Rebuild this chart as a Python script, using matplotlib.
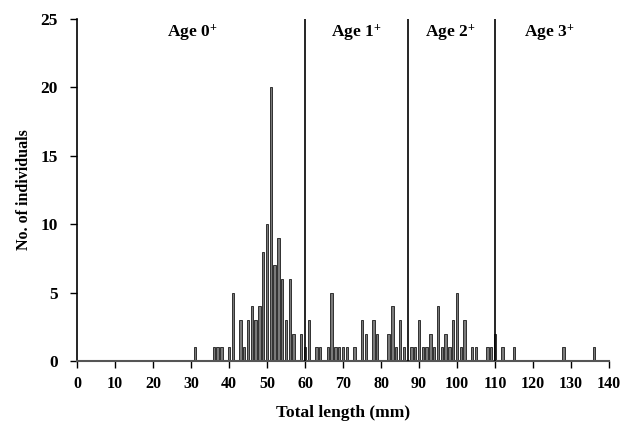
import matplotlib
matplotlib.use("Agg")
import matplotlib.pyplot as plt

plt.rcParams['font.family'] = ['Liberation Serif', 'DejaVu Serif']
plt.rcParams['font.weight'] = 'bold'
plt.rcParams['mathtext.fontset'] = 'custom'
plt.rcParams['mathtext.rm'] = 'Liberation Serif:bold'
plt.rcParams['mathtext.bf'] = 'Liberation Serif:bold'
plt.rcParams['mathtext.it'] = 'Liberation Serif:bold'

lengths = [31, 36, 37, 38, 40, 41, 43, 44, 45, 46, 47, 48, 49, 50, 51, 52, 53, 54, 55, 56,
           57, 59, 60, 61, 63, 64, 66, 67, 68, 69, 70, 71, 73, 75, 76, 78, 79, 82, 83, 84,
           85, 86, 88, 89, 90, 91, 92, 93, 94, 95, 96, 97, 98, 99, 100, 101, 102, 104, 105,
           108, 109, 110, 112, 115, 128, 136]
counts = [1, 1, 1, 1, 1, 5, 3, 1, 3, 4, 3, 4, 8, 10, 20, 7, 9, 6, 3, 6,
          2, 2, 1, 3, 1, 1, 1, 5, 1, 1, 1, 1, 1, 3, 2, 3, 2, 2, 4, 1,
          3, 1, 1, 1, 3, 1, 1, 2, 1, 4, 1, 2, 1, 3, 5, 1, 3, 1, 1,
          1, 1, 2, 1, 1, 1, 1]
age_limits = [60, 87, 110]
age_labels = ['Age 0$^{+}$', 'Age 1$^{+}$', 'Age 2$^{+}$', 'Age 3$^{+}$']
age_label_x = [30.2, 73.4, 98.2, 124.2]
x_ticks = list(range(0, 141, 10))
y_ticks = list(range(0, 26, 5))

fig = plt.figure(figsize=(6.34, 4.23), dpi=100)
ax = fig.add_axes([0.1215, 0.1466, 0.8391, 0.8084])

ax.bar(lengths, counts, width=0.6, color='#7a7a7a', edgecolor='#1a1a1a', linewidth=0.6, zorder=2)
for xl in age_limits:
    ax.plot([xl, xl], [0, 25], color='black', linewidth=1.2, zorder=3)
for xt, lab in zip(age_label_x, age_labels):
    ax.text(xt, 24.0, lab, ha='center', va='center', fontsize=12.5, fontweight='bold')

ax.set_xlim(0, 140)
ax.set_ylim(0, 25)
ax.set_xticks(x_ticks)
ax.set_yticks(y_ticks)
ax.tick_params(axis='both', direction='out', length=5, width=1, colors='black')
ax.tick_params(axis='x', pad=6, labelsize=11.5)
ax.tick_params(axis='y', pad=9, labelsize=12.5)
for lab in ax.get_xticklabels() + ax.get_yticklabels():
    lab.set_fontweight('bold')
ax.spines['top'].set_visible(False)
ax.spines['right'].set_visible(False)
ax.spines['left'].set_linewidth(1.2)
ax.spines['bottom'].set_linewidth(1.5)
ax.spines['bottom'].set_color('#555555')
ax.set_xlabel('Total length (mm)', fontsize=12.5, fontweight='bold', labelpad=9)
ax.set_ylabel('No. of individuals', fontsize=11.5, fontweight='bold', labelpad=6)

fig.savefig('out.png', dpi=100)
